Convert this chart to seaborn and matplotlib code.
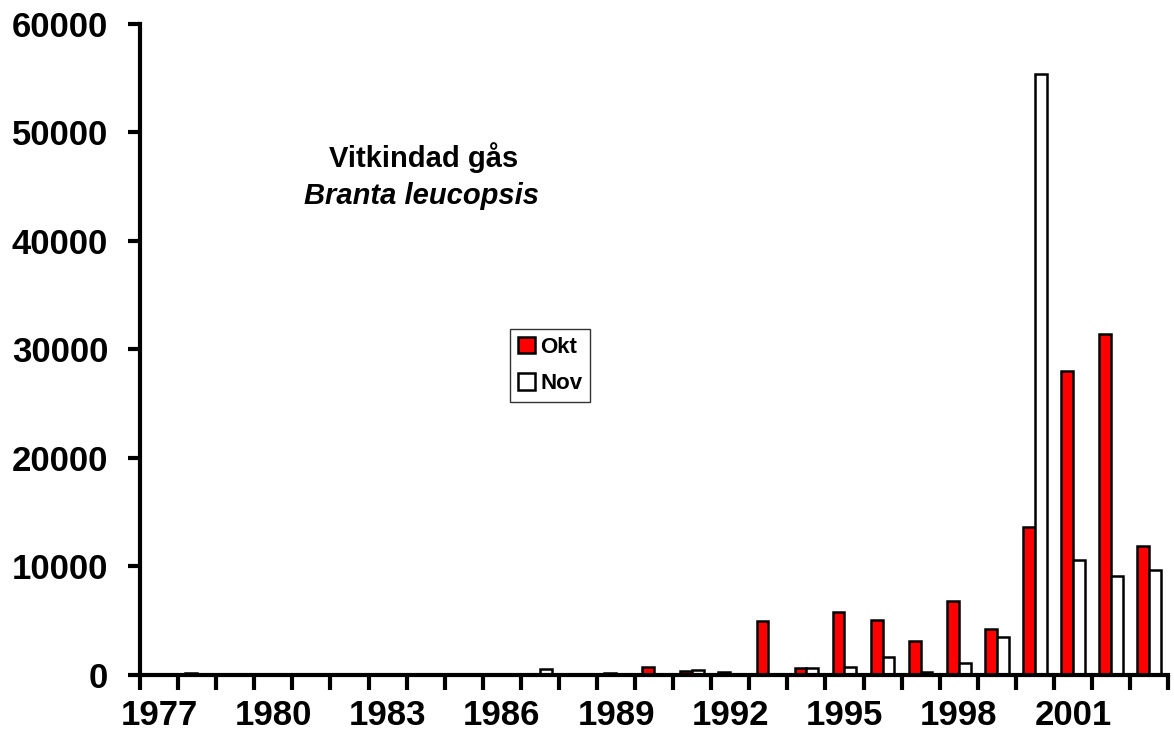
import matplotlib
matplotlib.use("Agg")
import matplotlib.pyplot as plt
import numpy as np
import pandas as pd
import seaborn as sns

years = list(range(1977, 2004))
okt = [0, 200, 0, 0, 0, 0, 0, 0, 0, 0, 0, 0, 150, 700, 350, 250,
       4950, 650, 5800, 5100, 3150, 6800, 4200, 13600, 28000, 31400, 11900]
nov = [0, 0, 0, 0, 0, 0, 0, 0, 80, 0, 550, 0, 0, 0, 500, 0,
       0, 600, 750, 1650, 300, 1150, 3500, 55400, 10600, 9100, 9700]
months = ["Okt", "Nov"]
year_labels = [str(y) if (y - 1977) % 3 == 0 else "" for y in years]

df = pd.DataFrame({
    "year": [str(y) for y in years] * 2,
    "count": okt + nov,
    "month": ["Okt"] * len(years) + ["Nov"] * len(years),
})

sns.set_style("white")
plt.rcParams["font.family"] = ["Liberation Sans", "DejaVu Sans"]
plt.rcParams["font.weight"] = "bold"
plt.rcParams["text.color"] = "black"
plt.rcParams["xtick.color"] = "black"
plt.rcParams["ytick.color"] = "black"

fig = plt.figure(figsize=(11.74, 7.46), dpi=100)
ax = fig.add_axes([0.1193, 0.0952, 0.8757, 0.8728])

sns.barplot(data=df, x="year", y="count", hue="month", hue_order=months,
            palette=["#ff0000", "#ffffff"], edgecolor="black", linewidth=1.8,
            width=0.62, gap=0, saturation=1, ax=ax)

ax.set_xlim(-0.5, len(years) - 0.5)
ax.set_ylim(0, 60000)
ax.set_yticks(np.arange(0, 60001, 10000))
ax.set_yticklabels([str(v) for v in range(0, 60001, 10000)],
                   fontsize=25, fontweight="bold")

# labels at category centres, tick marks on the category boundaries
ax.set_xticks(range(len(years)))
ax.set_xticklabels(year_labels, fontsize=25, fontweight="bold")
ax.set_xticks(np.arange(-0.5, len(years)), minor=True)
ax.tick_params(axis="x", which="major", bottom=True, length=0, pad=17)
ax.tick_params(axis="x", which="minor", bottom=True, length=11, width=3,
               direction="out")
ax.tick_params(axis="y", which="major", left=True, length=9, width=3,
               direction="out", pad=14)
ax.set_xlabel("")
ax.set_ylabel("")

for s in ["top", "right"]:
    ax.spines[s].set_visible(False)
for s in ["left", "bottom"]:
    ax.spines[s].set_linewidth(3)
    ax.spines[s].set_color("black")

ax.text(0.276, 0.795, "Vitkindad gås", transform=ax.transAxes,
        ha="center", va="center", fontsize=21, fontweight="bold")
ax.text(0.274, 0.735, "Branta leucopsis", transform=ax.transAxes,
        ha="center", va="center", fontsize=21, fontweight="bold", style="italic")

handles, labels = ax.get_legend_handles_labels()
leg = ax.legend(handles, labels, loc="lower left", bbox_to_anchor=(0.36, 0.419),
                frameon=True, fancybox=False, handlelength=0.75, handleheight=0.75,
                handletextpad=0.25, labelspacing=0.7, borderpad=0.35,
                borderaxespad=0, prop={"size": 16, "weight": "bold"})
leg.get_frame().set_edgecolor("black")
leg.get_frame().set_linewidth(1)

fig.savefig("out.png", dpi=100)
